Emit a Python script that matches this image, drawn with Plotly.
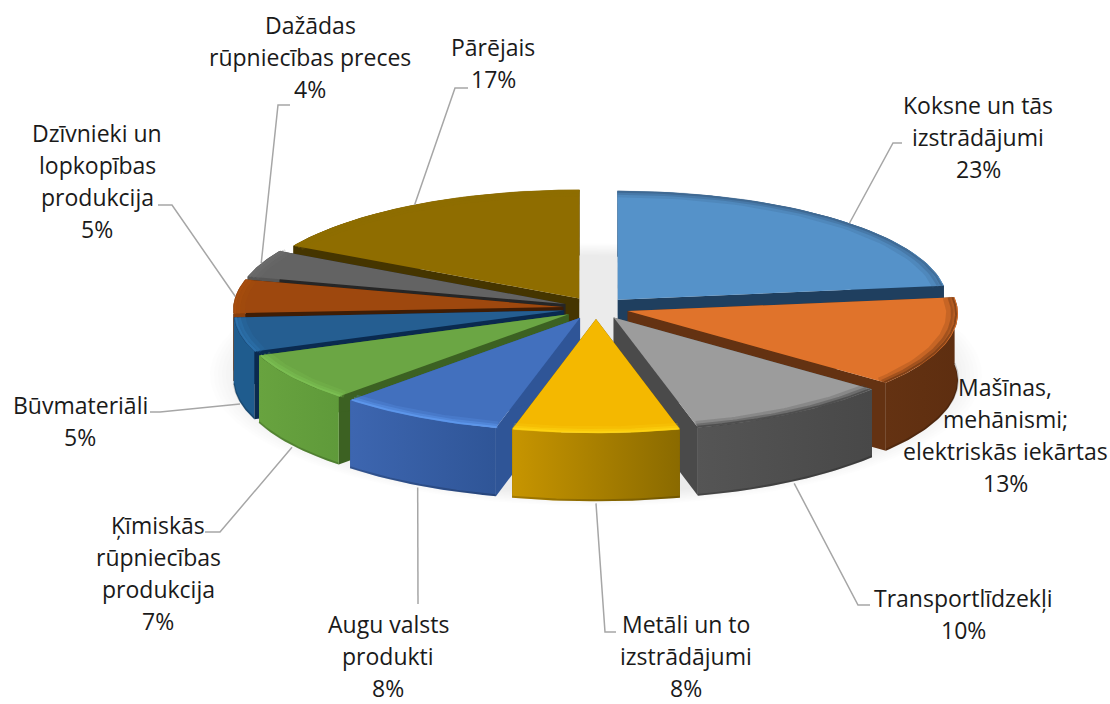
import numpy as np
import plotly.graph_objects as go

# ---------- data ----------
categories = ["Koksne un tās|izstrādājumi", "Mašīnas,|mehānismi;|elektriskās iekārtas",
              "Transportlīdzekļi", "Metāli un to|izstrādājumi", "Augu valsts|produkti",
              "Ķīmiskās|rūpniecības|produkcija", "Būvmateriāli",
              "Dzīvnieki un|lopkopības|produkcija", "Dažādas|rūpniecības preces", "Pārējais"]
shares = [23, 13, 10, 8, 8, 7, 5, 5, 4, 17]

# ---------- styles ----------
top_colors = ["#5592C9", "#E0732B", "#9C9C9C", "#F4B800", "#4270BE",
              "#6BA644", "#255E91", "#9E480E", "#636363", "#8F6D00"]
radial_colors = ["#1F3F5F", "#643212", "#4A4A4A", "#6E5300", "#2F5597",
                 "#3C6122", "#0A2A4F", "#3F1D05", "#262626", "#453500"]
wall_left = ["#1F3F5F", "#643212", "#555555", "#C79500", "#3D66B0",
             "#68A33F", "#1F5C8E", "#8A3F0C", "#555555", "#453500"]
wall_right = ["#1F3F5F", "#5E2E10", "#484848", "#8A6A00", "#2F5597",
              "#5F9A3A", "#1F5C8E", "#8A3F0C", "#555555", "#453500"]
edge_colors = [(60, 100, 140), (110, 55, 20), (70, 70, 70), (255, 214, 20), (96, 155, 240),
               (126, 194, 84), (47, 119, 179), (170, 80, 15), (110, 110, 110), (143, 109, 0)]
label_pos = [(978, 105), (1005, 387), (963, 598), (686, 624), (388, 624),
             (158, 525), (80, 405), (97, 133), (310, 25), (493, 47)]
elbows = [[(893, 143), (902, 143)], None, [(858, 605), (870, 605)], [(605, 632), (616, 632)],
          [(418, 604)], [(220, 532), (205, 532)], [(160, 412), (150, 412)],
          [(172, 205), (158, 205)], [(278, 105), (290, 105)], [(455, 88), (468, 88)]]
anchor_frac = [0.55, 0.5, 0.5, 0.5, 0.5, 0.5, 0.5, 0.5, 0.5, 0.5]
CX, CY, RX, RY, KP, DEPTH, PULL = 596, 308, 330, 111, 0.02, 67, 0.10
LINE_H = 32


def proj(u, v, z=0.0):
    s = 1 / (1 + KP * v)
    return CX + RX * u * s, CY - RY * v * s + z * DEPTH * s


def poly(fig, x, y, color=None, grad=None):
    kw = dict(x=list(x), y=list(y), mode="lines", fill="toself", line=dict(width=0),
              hoverinfo="skip", showlegend=False)
    if grad:
        kw["fillgradient"] = dict(type="horizontal", colorscale=[[0, grad[0]], [1, grad[1]]])
    else:
        kw["fillcolor"] = color
    fig.add_trace(go.Scatter(**kw))


def stroke(fig, x, y, color, width):
    fig.add_trace(go.Scatter(x=list(x), y=list(y), mode="lines", line=dict(color=color, width=width),
                             hoverinfo="skip", showlegend=False))


fig = go.Figure()

# soft shadow under the pie
t = np.linspace(0, 2 * np.pi, 180)
for i in range(10):
    g = 1.17 - i * 0.012
    sx, sy = proj(g * np.sin(t), g * np.cos(t), 0.95)
    poly(fig, sx, sy, "rgba(60,60,60,0.008)")

fractions = np.array(shares) / sum(shares)
ends = np.cumsum(fractions) * 2 * np.pi
starts = ends - fractions * 2 * np.pi
mids = (starts + ends) / 2

# back-to-front painting
for i in np.argsort(-np.cos(mids)):
    a = np.linspace(starts[i], ends[i], 50)
    u0, v0 = PULL * np.sin(mids[i]), PULL * np.cos(mids[i])
    ou, ov = u0 + np.sin(a), v0 + np.cos(a)
    # radial faces
    for k in (0, -1):
        x1, y1 = proj(np.array([u0, ou[k]]), np.array([v0, ov[k]]), 0)
        x2, y2 = proj(np.array([ou[k], u0]), np.array([ov[k], v0]), 1)
        poly(fig, np.r_[x1, x2], np.r_[y1, y2], radial_colors[i])
    # outer wall
    xt, yt = proj(ou, ov, 0)
    xb, yb = proj(ou, ov, 1)
    poly(fig, np.r_[xt, xb[::-1]], np.r_[yt, yb[::-1]], grad=(wall_left[i], wall_right[i]))
    if np.cos(mids[i]) < 0:
        stroke(fig, xb, yb - 1, "rgba(0,0,0,0.18)", 2)
    # top
    px, py = proj(np.r_[u0, ou], np.r_[v0, ov], 0)
    poly(fig, px, py, top_colors[i])
    # soft bevel along the rim
    r, g_, b = edge_colors[i]
    for f, w, al in ((0.975, 7, 0.22), (0.985, 4, 0.4), (0.994, 2, 0.75)):
        ix, iy = proj(u0 + f * np.sin(a), v0 + f * np.cos(a), 0)
        stroke(fig, ix, iy, f"rgba({r},{g_},{b},{al})", w)

# leader lines
for i, pts in enumerate(elbows):
    if not pts:
        continue
    u0, v0 = PULL * np.sin(mids[i]), PULL * np.cos(mids[i])
    z = 1.03 if np.cos(mids[i]) < 0.05 else 0
    ang = starts[i] + anchor_frac[i] * (ends[i] - starts[i])
    sx, sy = proj(u0 + np.sin(ang), v0 + np.cos(ang), z)
    stroke(fig, [sx] + [p[0] for p in pts], [sy] + [p[1] for p in pts], "#A6A6A6", 1.5)

# labels
for name, share, (lx, ly) in zip(categories, shares, label_pos):
    lines = name.split("|") + [f"{share}%"]
    for j, line in enumerate(lines):
        fig.add_annotation(x=lx, y=ly + j * LINE_H, text=line, showarrow=False, xanchor="center",
                           yanchor="middle", font=dict(family="Open Sans", size=23, color="#1a1a1a"))

fig.update_layout(
    width=1110, height=704, margin=dict(l=0, r=0, t=0, b=0),
    paper_bgcolor="white", plot_bgcolor="white", showlegend=False,
    xaxis=dict(range=[0, 1110], visible=False, fixedrange=True),
    yaxis=dict(range=[704, 0], visible=False, fixedrange=True),
)
fig.write_html("out.html", config={"displayModeBar": False},
               post_script="document.body.style.margin='0';document.documentElement.style.overflow='hidden';")
